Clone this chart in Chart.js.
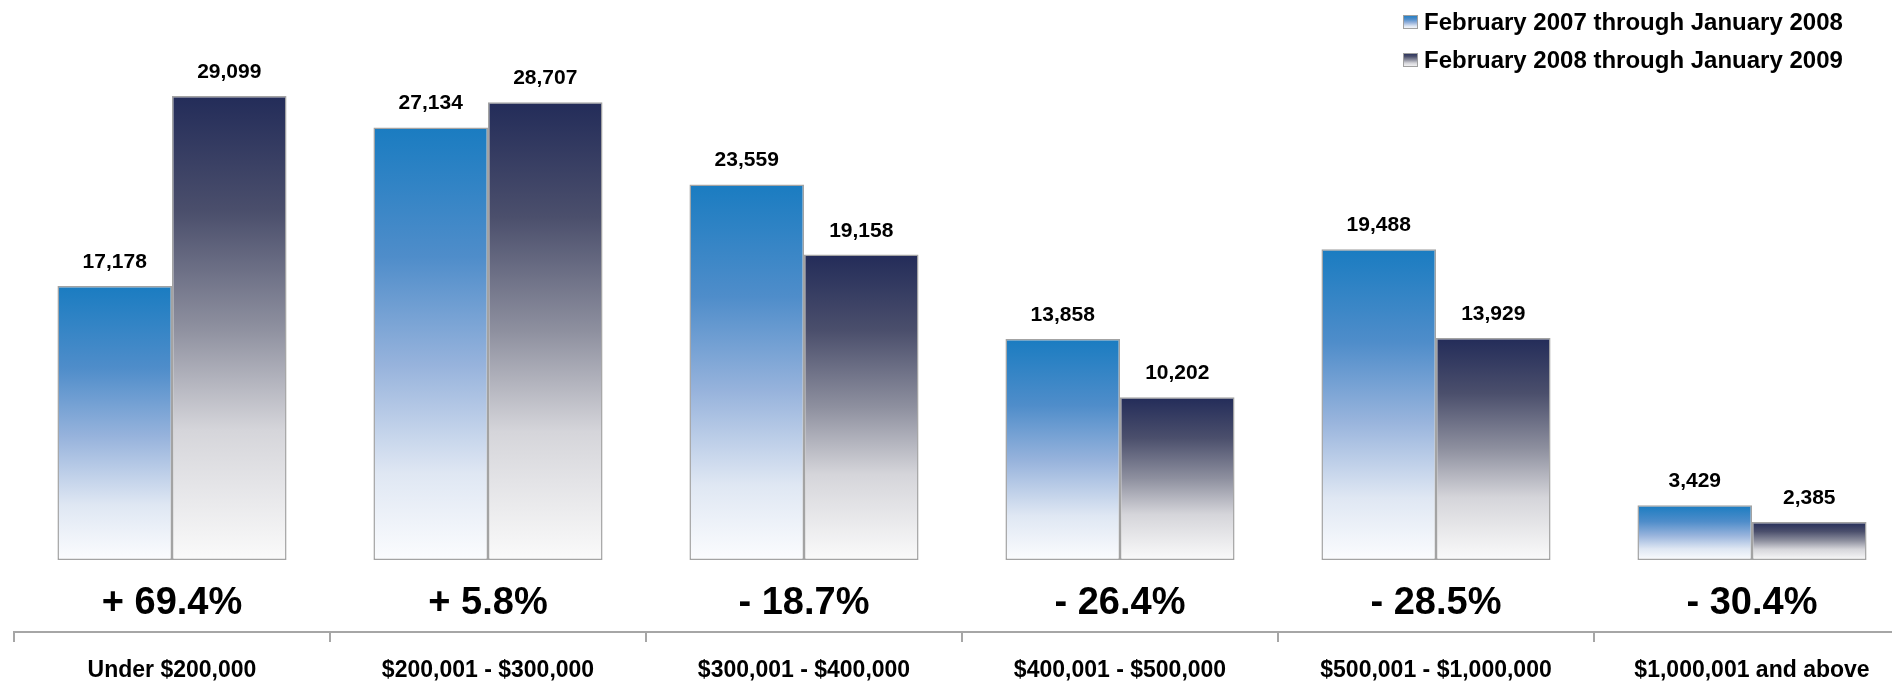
<!DOCTYPE html>
<html>
<head>
<meta charset="utf-8">
<script src="https://cdn.jsdelivr.net/npm/chart.js@4.4.1/dist/chart.umd.min.js"></script>
<style>
  html, body { margin: 0; padding: 0; background: #fff; overflow: hidden; }
  #wrap { position: relative; width: 1912px; height: 682px; }
</style>
</head>
<body>
<div id="wrap"><canvas id="chart"></canvas></div>
<script>
const categories = [
  'Under $200,000',
  '$200,001 - $300,000',
  '$300,001 - $400,000',
  '$400,001 - $500,000',
  '$500,001 - $1,000,000',
  '$1,000,001 and above',
];
const seriesNames = [
  'February 2007 through January 2008',
  'February 2008 through January 2009',
];
const sales0708 = [17178, 27134, 23559, 13858, 19488, 3429];
const sales0809 = [29099, 28707, 19158, 10202, 13929, 2385];
const changeLabels = ['+ 69.4%', '+ 5.8%', '- 18.7%', '- 26.4%', '- 28.5%', '- 30.4%'];

const FONT = '"Liberation Sans", Arial, Helvetica, sans-serif';

// colour stops, top of bar -> bottom of bar
const blueStops = [[0, '#1a7cc1'], [0.3, '#4f8dca'], [0.55, '#97b3dc'], [0.8, '#dfe7f3'], [1, '#fbfcfe']];
const navyStops = [[0, '#232c59'], [0.25, '#4b4f6c'], [0.5, '#8e909f'], [0.72, '#d5d5da'], [1, '#fafafa']];

function makeGradient(ctx, top, bottom, stops) {
  const g = ctx.createLinearGradient(0, top, 0, bottom);
  stops.forEach(([o, c]) => g.addColorStop(o, c));
  return g;
}

function barFill(stops) {
  return (context) => {
    const chart = context.chart;
    if (!chart.chartArea || context.type !== 'data') return stops[0][1];
    const y = chart.scales.y;
    return makeGradient(chart.ctx, y.getPixelForValue(context.raw), y.getPixelForValue(0), stops);
  };
}

const labelPlugin = {
  id: 'barLabels',
  afterDatasetsDraw(chart) {
    const c = chart.ctx;
    c.save();
    c.fillStyle = '#000';
    c.textAlign = 'center';
    c.textBaseline = 'alphabetic';

    // values above bars
    c.font = 'bold 21px ' + FONT;
    chart.data.datasets.forEach((ds, di) => {
      chart.getDatasetMeta(di).data.forEach((bar, i) => {
        c.fillText(ds.data[i].toLocaleString('en-US'), bar.x, bar.y - 18);
      });
    });

    // percent change under each pair
    c.font = 'bold 38px ' + FONT;
    const x = chart.scales.x;
    changeLabels.forEach((t, i) => c.fillText(t, x.getPixelForValue(i), 614));

    // legend, top right
    c.textAlign = 'left';
    c.font = 'bold 24px ' + FONT;
    [blueStops, navyStops].forEach((stops, i) => {
      const top = 15 + i * 38;
      c.fillStyle = makeGradient(c, top, top + 14, stops);
      c.fillRect(1403, top, 15, 14);
      c.strokeStyle = '#a0a0a0';
      c.lineWidth = 1;
      c.strokeRect(1403.5, top + 0.5, 14, 13);
      c.fillStyle = '#000';
      c.fillText(seriesNames[i], 1424, top + 15);
    });
    c.restore();
  },
};

new Chart(document.getElementById('chart'), {
  type: 'bar',
  data: {
    labels: categories,
    datasets: [
      {
        label: seriesNames[0],
        data: sales0708,
        backgroundColor: barFill(blueStops),
        borderColor: '#a3a3a3',
        borderWidth: 1.5,
        borderSkipped: false,
      },
      {
        label: seriesNames[1],
        data: sales0809,
        backgroundColor: barFill(navyStops),
        borderColor: '#a3a3a3',
        borderWidth: 1.5,
        borderSkipped: false,
      },
    ],
  },
  options: {
    responsive: true,
    maintainAspectRatio: false,
    animation: false,
    events: [],
    layout: { padding: { top: 2, left: 14, right: 2, bottom: 0 } },
    datasets: { bar: { categoryPercentage: 0.725, barPercentage: 1.0 } },
    plugins: {
      legend: { display: false },
      tooltip: { enabled: false },
    },
    scales: {
      x: {
        offset: true,
        grid: {
          offset: true,
          drawOnChartArea: false,
          drawTicks: true,
          tickLength: 10,
          color: '#a6a6a6',
          lineWidth: 2,
        },
        border: { display: true, color: '#a6a6a6', width: 2 },
        ticks: {
          color: '#000',
          font: { family: FONT, size: 23, weight: 'bold', lineHeight: 1 },
          padding: 17,
          maxRotation: 0,
          autoSkip: false,
        },
        afterFit(scale) { scale.height = 50; },
      },
      y: {
        display: false,
        min: -4520,
        max: 35000,
      },
    },
  },
  plugins: [labelPlugin],
});
</script>
</body>
</html>
